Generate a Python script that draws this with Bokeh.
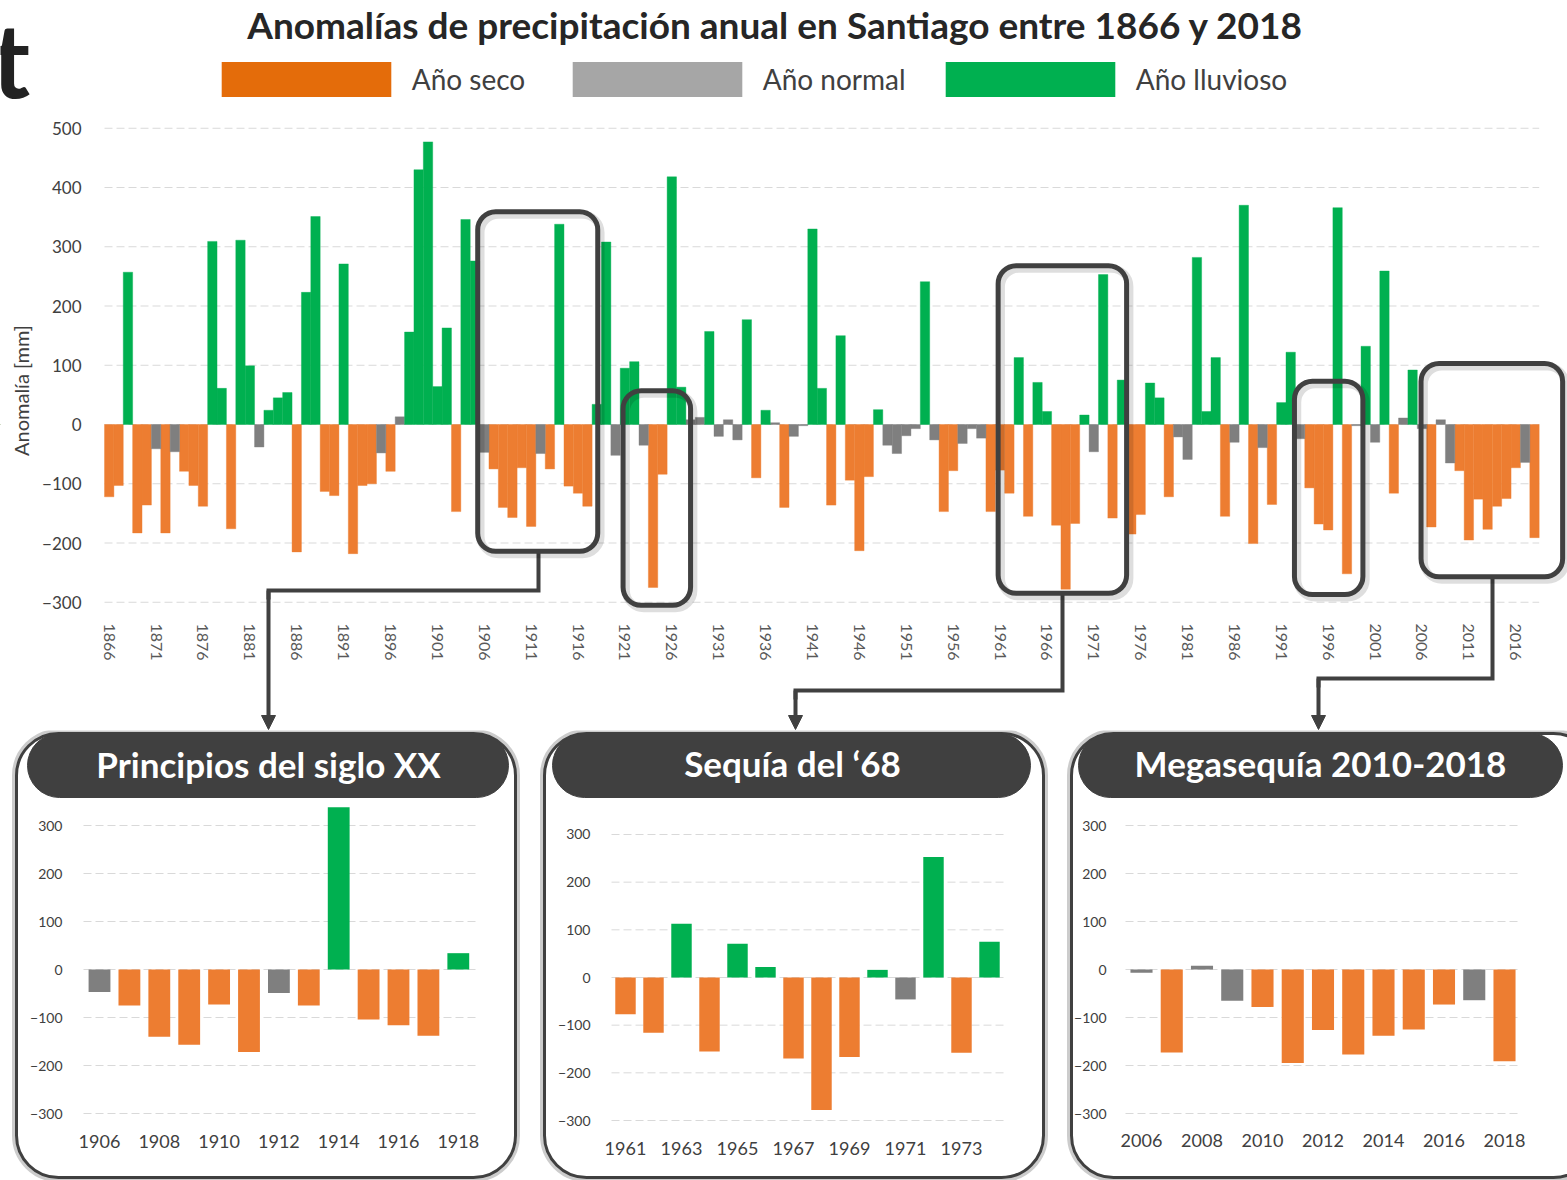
import math
from bokeh.plotting import figure
from bokeh.layouts import column, row
from bokeh.models import (Range1d, FixedTicker, BoxAnnotation, Label, Legend,
                          LegendItem, Arrow, NormalHead)
from bokeh.embed import file_html
from bokeh.resources import INLINE

# ---------------- data ----------------
years = list(range(1866, 2019))
anomalies = [
    -122, -103, 257, -183,                                   # 1866-1869
    -136, -41, -183, -46, -79, -103, -138, 309, 61, -176,    # 1870s
    311, 99, -38, 24, 45, 54, -215, 223, 351, -113,          # 1880s
    -120, 271, -218, -103, -100, -48, -79, 13, 156, 430,     # 1890s
    477, 64, 163, -147, 346, 276, -47, -75, -140, -157,      # 1900s
    -73, -172, -49, -75, 338, -104, -116, -138, 34, 308,     # 1910s
    -52, 95, 106, -35, -275, -84, 418, 63, 8, 12,            # 1920s
    157, -20, 8, -26, 177, -90, 24, 3, -140, -20,            # 1930s
    -2, 330, 61, -136, 150, -94, -213, -88, 25, -35,         # 1940s
    -49, -19, -7, 241, -26, -147, -78, -32, -7, -23,         # 1950s
    -147, -77, -116, 113, -155, 71, 22, -170, -278, -167,    # 1960s
    16, -46, 253, -158, 75, -185, -152, 70, 45, -122,        # 1970s
    -21, -59, 282, 22, 113, -155, -30, 370, -201, -39,       # 1980s
    -135, 37, 122, -24, -107, -168, -178, 366, -252, -2,     # 1990s
    132, -30, 259, -116, 11, 92, -7, -173, 8, -65,           # 2000s
    -78, -195, -126, -177, -138, -125, -73, -64, -191,       # 2010-2018
]
# S = año seco, N = año normal, L = año lluvioso
categories = list(
    "SSLS"
    "SNSNSSSLLS"
    "LLNLLLSLLS"
    "SLSSSNSNLL"
    "LLLSLLNSSS"
    "SSNSLSSSLL"
    "NLLNSSLLNN"
    "LNNNLSLNSN"
    "NLLSLSSSLN"
    "NNNLNSSNNN"
    "SSSLSLLSSS"
    "LNLSLSSLLS"
    "NNLLLSNLSN"
    "SLLNSSSLSN"
    "LNLSNLNSNN"
    "SSSSSSSNS"
)
assert len(years) == len(anomalies) == len(categories)

title_text = "Anomalías de precipitación anual en Santiago entre 1866 y 2018"
y_title = "Anomalía [mm]"
legend_labels = {"S": "Año seco", "N": "Año normal", "L": "Año lluvioso"}
main_xticks = list(range(1866, 2019, 5))
main_yticks = list(range(-300, 501, 100))
inset_yticks = list(range(-300, 301, 100))
inset_titles = ["Principios del siglo XX", "Sequía del \u201868", "Megasequía 2010-2018"]
inset_periods = [(1906, 1918), (1961, 1974), (2006, 2018)]
inset_xticks = [list(range(1906, 1919, 2)), list(range(1961, 1974, 2)), list(range(2006, 2019, 2))]

# ---------------- styles ----------------
FONT = "Lato"
DARK = "#404040"
BAR = {"S": "#ED7D31", "N": "#7F7F7F", "L": "#00B050"}
LEG = {"S": "#E46C0A", "N": "#A6A6A6", "L": "#00B050"}
GRID = "#D9D9D9"


def select(cat, y0, y1):
    xs, vs = [], []
    for y, v, c in zip(years, anomalies, categories):
        if c == cat and y0 <= y <= y1:
            xs.append(y)
            vs.append(v)
    return xs, vs


# ---------------- main chart (canvas = page area 0..1567 x 0..730) ----------------
X0P, PITCH = 108.7, 9.377      # page x of first bar centre, px per year
ZP, PPU = 424.0, 0.5925        # page y of zero line, px per mm
W_MAIN, H_MAIN = 1567, 730
PLOT_LEFT = 104


def mx(px):
    return years[0] + (px - X0P) / PITCH


def my(py):
    return (ZP - py) / PPU


p = figure(width=W_MAIN, height=H_MAIN,
           x_range=Range1d(mx(0), mx(W_MAIN)),
           y_range=Range1d(my(H_MAIN), my(0)),
           output_backend="svg", toolbar_location=None, min_border=0)
p.outline_line_color = None
p.xgrid.visible = False
p.ygrid.visible = False

# grid lines
n = len(main_yticks)
p.segment(x0=[mx(PLOT_LEFT)] * n, x1=[years[-1] + 0.5] * n, y0=main_yticks, y1=main_yticks,
          line_color=GRID, line_dash="8 4", line_width=1)

for c in "SNL":
    xs, vs = select(c, years[0], years[-1])
    p.vbar(x=xs, top=vs, bottom=0, width=1.0, fill_color=BAR[c],
           line_color=BAR[c], line_width=0.4)

# axes
ya = p.yaxis[0]
ya.fixed_location = mx(PLOT_LEFT)
ya.ticker = FixedTicker(ticks=main_yticks)
ya.axis_line_color = None
ya.major_tick_line_color = None
ya.minor_tick_line_color = None
ya.major_label_standoff = 17
ya.major_label_text_font = FONT
ya.major_label_text_font_size = "17px"
ya.major_label_text_color = DARK

xa = p.xaxis[0]
xa.fixed_location = my(613)
xa.ticker = FixedTicker(ticks=main_xticks)
xa.axis_line_color = None
xa.major_tick_line_color = None
xa.minor_tick_line_color = None
xa.major_label_orientation = "vertical"
xa.major_label_standoff = 4
xa.major_label_text_font = FONT
xa.major_label_text_font_size = "16px"
xa.major_label_text_color = "#595959"

p.add_layout(Label(x=20, y=H_MAIN - 390, x_units="screen", y_units="screen",
                   text=y_title, angle=math.pi / 2, text_font=FONT,
                   text_font_size="20px", text_color=DARK,
                   text_align="center", text_baseline="middle"))

# highlight boxes (left, right, top, bottom) in data units
boxes = [(1905.3, 1918.1, 359, -214), (1920.8, 1928.0, 57, -305),
         (1960.8, 1974.5, 268, -285), (1992.4, 1999.7, 73, -287),
         (2005.9, 2021.0, 103, -257)]
for (l, r, t, b) in boxes:
    p.add_layout(BoxAnnotation(left=l + 0.3, right=r + 0.3, top=t - 5, bottom=b - 5,
                               fill_alpha=0, line_color="#000000", line_alpha=0.13,
                               line_width=8, border_radius=18))
for (l, r, t, b) in boxes:
    p.add_layout(BoxAnnotation(left=l, right=r, top=t, bottom=b, fill_alpha=0,
                               line_color=DARK, line_alpha=1, line_width=5,
                               border_radius=18))

# connectors: (x from box, y of elbow, x of arrow, y start)
connectors = [(mx(538), my(590), mx(268), -214),
              (mx(1062), my(690), mx(795), -285),
              (mx(1492), my(678), mx(1318), -257)]
for (xb, ye, xa_, yb) in connectors:
    p.line(x=[xb, xb, xa_, xa_], y=[yb, ye, ye, ye - 15], line_color=DARK,
           line_width=4, line_join="miter")
    p.add_layout(Arrow(x_start=xa_, y_start=ye, x_end=xa_, y_end=my(729),
                       line_color=DARK, line_width=4,
                       end=NormalHead(size=14, fill_color=DARK, line_color=DARK)))

# legend (one item per legend, swatches in legend colours; swatch renderers sit off-range)
# Bokeh draws an area swatch at 80 % of the glyph box, so the box is enlarged by 1/0.8
SW_W, SW_H = 170, 35
GW, GH = SW_W / 0.8, SW_H / 0.8
leg_r = {c: p.vbar(x=[years[0] - 100], top=[1], width=1, fill_color=LEG[c],
                   line_color=None) for c in "SNL"}
for c, px in zip("SNL", [221, 572, 945]):
    lg = Legend(items=[LegendItem(label=legend_labels[c], renderers=[leg_r[c]])],
                location=(px - (GW - SW_W) / 2, H_MAIN - 97 - (GH - SW_H) / 2),
                orientation="horizontal",
                glyph_width=round(GW), glyph_height=round(GH),
                label_standoff=14 - round((GW - SW_W) / 2), padding=0,
                margin=0, spacing=0, border_line_color=None, background_fill_alpha=0,
                label_text_font=FONT, label_text_font_size="28px",
                label_text_color=DARK, label_height=round(GH))
    p.add_layout(lg)

p.add_layout(Label(x=775, y=H_MAIN - 24, x_units="screen", y_units="screen",
                   text=title_text, text_font=FONT, text_font_size="37px",
                   text_font_style="bold", text_color="#262626",
                   text_align="center", text_baseline="middle"))
p.add_layout(Label(x=-9, y=H_MAIN - 57, x_units="screen", y_units="screen",
                   text="t", text_font=FONT, text_font_size="104px",
                   text_font_style="bold", text_color="#222222",
                   text_align="left", text_baseline="alphabetic"))

# ---------------- insets ----------------
inset_layout = [
    dict(fig_left=0, width=535, x0p=99, pitch=29.9, zp=969, ppu=0.48,
         panel=(16, 515, 733, 1177), header=(27, 508, 733, 797), text=(268, 763),
         grid=(83, 477), ystand=15, xstand=15),
    dict(fig_left=535, width=527, x0p=625, pitch=28.0, zp=977, ppu=0.4767,
         panel=(544, 1043, 733, 1177), header=(552, 1030, 733, 797), text=(792, 762),
         grid=(611, 1003), ystand=15, xstand=15),
    dict(fig_left=1062, width=505, x0p=1141, pitch=30.25, zp=969, ppu=0.48,
         panel=(1071, 1595, 733, 1177), header=(1078, 1562, 733, 797), text=(1320, 762),
         grid=(1125, 1520), ystand=13, xstand=14),
]
I_TOP, I_BOT = 730, 1180


def make_inset(title, period, xticks, L):
    y0, y1 = period

    def ix(px):
        return y0 + (px - L["x0p"]) / L["pitch"]

    def iy(py):
        return (L["zp"] - py) / L["ppu"]

    f = figure(width=L["width"], height=I_BOT - I_TOP,
               x_range=Range1d(ix(L["fig_left"]), ix(L["fig_left"] + L["width"])),
               y_range=Range1d(iy(I_BOT), iy(I_TOP)),
               output_backend="svg", toolbar_location=None, min_border=0)
    f.outline_line_color = None
    f.xgrid.visible = False
    f.ygrid.visible = False

    pl, pr, pt, pb = L["panel"]
    f.add_layout(BoxAnnotation(left=ix(pl), right=ix(pr), top=iy(pt), bottom=iy(pb),
                               fill_alpha=0, line_color="#BFBFBF", line_alpha=0.8,
                               line_width=9, border_radius=42, level="underlay"))
    f.add_layout(BoxAnnotation(left=ix(pl), right=ix(pr), top=iy(pt), bottom=iy(pb),
                               fill_color="white", fill_alpha=1, line_color=DARK,
                               line_alpha=1, line_width=3, border_radius=42,
                               level="underlay"))
    hl, hr, ht, hb = L["header"]
    f.add_layout(BoxAnnotation(left=ix(hl), right=ix(hr), top=iy(ht), bottom=iy(hb),
                               fill_color=DARK, fill_alpha=1, line_color=DARK,
                               line_alpha=1, line_width=1, border_radius=32,
                               level="underlay"))
    tx, ty = L["text"]
    f.add_layout(Label(x=ix(tx), y=iy(ty), text=title, text_font=FONT,
                       text_font_size="35px", text_font_style="bold",
                       text_color="white", text_align="center", text_baseline="middle"))

    g0, g1 = L["grid"]
    m = len(inset_yticks)
    f.segment(x0=[ix(g0)] * m, x1=[ix(g1)] * m, y0=inset_yticks, y1=inset_yticks,
              line_color=GRID, line_dash="8 4", line_width=1)
    for c in "SNL":
        xs, vs = select(c, y0, y1)
        f.vbar(x=xs, top=vs, bottom=0, width=0.73, fill_color=BAR[c], line_color=None)

    ya = f.yaxis[0]
    ya.fixed_location = ix(g0)
    ya.ticker = FixedTicker(ticks=inset_yticks)
    ya.axis_line_color = None
    ya.major_tick_line_color = None
    ya.minor_tick_line_color = None
    ya.major_label_standoff = L["ystand"]
    ya.major_label_text_font = FONT
    ya.major_label_text_font_size = "14px"
    ya.major_label_text_color = DARK

    xa = f.xaxis[0]
    xa.fixed_location = -300
    xa.ticker = FixedTicker(ticks=xticks)
    xa.axis_line_color = None
    xa.major_tick_line_color = None
    xa.minor_tick_line_color = None
    xa.major_label_standoff = L["xstand"]
    xa.major_label_text_font = FONT
    xa.major_label_text_font_size = "18px"
    xa.major_label_text_color = DARK
    return f


insets = [make_inset(t, per, xt, L) for t, per, xt, L in
          zip(inset_titles, inset_periods, inset_xticks, inset_layout)]

layout = column(p, row(*insets, spacing=0), spacing=0)
open("out.html", "w").write(file_html(layout, INLINE))
